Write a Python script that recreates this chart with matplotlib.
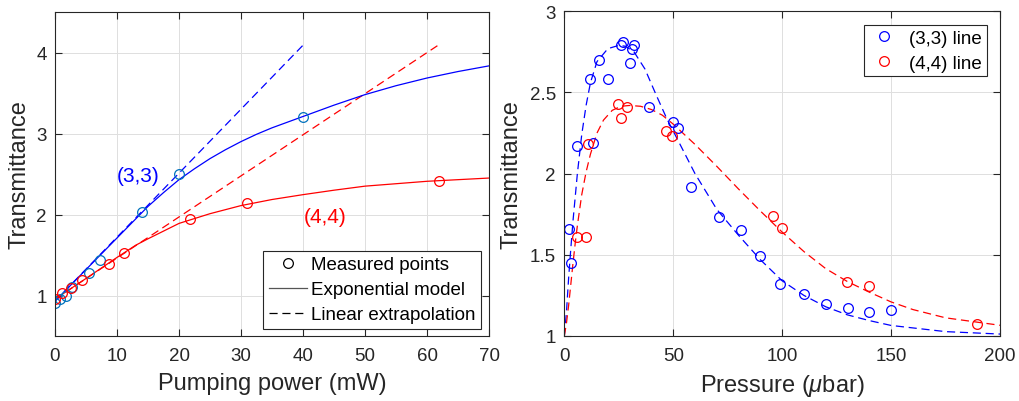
import matplotlib
matplotlib.use("Agg")
import matplotlib.pyplot as plt
from matplotlib.lines import Line2D

plt.rcParams['font.family'] = ['Liberation Sans', 'DejaVu Sans']
plt.rcParams['mathtext.fontset'] = 'custom'
plt.rcParams['mathtext.it'] = 'Liberation Sans:italic'
plt.rcParams['mathtext.rm'] = 'Liberation Sans'

# ---------------- Left panel data ----------------
p33_power = [0, 0.8, 1.7, 2.8, 5.5, 7.2, 14, 20, 40]
p33_trans = [0.91, 0.96, 1.0, 1.10, 1.28, 1.44, 2.03, 2.50, 3.20]
p44_power = [0, 1.1, 2.6, 4.3, 8.7, 11.1, 21.7, 30.9, 62]
p44_trans = [0.955, 1.03, 1.09, 1.19, 1.39, 1.53, 1.94, 2.14, 2.41]

model33_power = [0, 5, 10, 15, 17.5, 20, 22.5, 25, 27.5, 30, 32.5, 35, 40, 45, 50, 55, 60, 65, 70]
model33_trans = [0.93, 1.32, 1.71, 2.10, 2.27, 2.43, 2.565, 2.69, 2.80, 2.90, 2.99, 3.07, 3.21, 3.35,
                 3.48, 3.59, 3.685, 3.765, 3.835]
model44_power = [0, 5, 10, 13, 15, 20, 25, 30, 35, 40, 45, 50, 55, 60, 65, 70]
model44_trans = [0.955, 1.21, 1.47, 1.62, 1.70, 1.89, 2.01, 2.11, 2.185, 2.245, 2.30, 2.35, 2.38, 2.41, 2.43, 2.45]

lin33_power = [0, 40]
lin33_trans = [0.93, 4.09]
lin44_power = [0, 62]
lin44_trans = [0.955, 4.10]

# ---------------- Right panel data ----------------
pr33 = [2, 3, 6, 12, 13, 16, 20, 26, 27, 30, 31, 32, 39, 50, 52, 58, 71, 81, 90, 99, 110, 120, 130, 140, 150]
tr33 = [1.66, 1.45, 2.17, 2.58, 2.19, 2.70, 2.58, 2.79, 2.81, 2.68, 2.77, 2.79, 2.41, 2.32, 2.28, 1.92,
        1.73, 1.65, 1.49, 1.32, 1.26, 1.195, 1.175, 1.15, 1.16]
pr44 = [6, 9.9, 10.7, 24.8, 25.9, 28.9, 46.8, 49.6, 95.8, 99.8, 129.8, 139.7, 189.6]
tr44 = [1.61, 1.61, 2.18, 2.43, 2.345, 2.41, 2.26, 2.23, 1.74, 1.665, 1.335, 1.305, 1.075]

fit33_p = [0, 1, 2, 3, 4, 6, 8, 10, 12, 15, 20, 25, 28, 32, 37, 42, 47, 52, 60, 70, 80, 90, 100,
           110, 120, 130, 140, 150, 175, 200]
fit33_t = [1.0, 1.15, 1.36, 1.54, 1.71, 2.0, 2.24, 2.42, 2.56, 2.69, 2.77, 2.79, 2.785, 2.75, 2.645,
           2.49, 2.34, 2.21, 2.0, 1.78, 1.62, 1.47, 1.34, 1.25, 1.18, 1.13, 1.095, 1.065, 1.027, 1.012]
fit44_p = [0, 1, 2, 3, 4, 5, 6, 8, 10, 12, 15, 18, 22, 26, 30, 35, 40, 45, 50, 60, 70, 80, 90, 100,
           110, 120, 130, 140, 150, 160, 175, 200]
fit44_t = [1.0, 1.08, 1.19, 1.32, 1.45, 1.57, 1.68, 1.87, 2.01, 2.12, 2.25, 2.33, 2.39, 2.415, 2.42,
           2.415, 2.395, 2.36, 2.305, 2.18, 2.045, 1.905, 1.77, 1.64, 1.52, 1.415, 1.335, 1.27, 1.21,
           1.163, 1.112, 1.066]

TXT = '#262626'
GRID = '#dfdfdf'
LBLUE = '#0072BD'
DASH = (0, (6.5, 3.8))
FS_TICK = 13.5
FS_LAB = 17
FS_ANN = 15

fig = plt.figure(figsize=(10.19, 4.02), dpi=100)
ax1 = fig.add_axes([55/1019, 65/402, 434/1019, 324/402])
ax2 = fig.add_axes([564.3/1019, 65/402, 435.7/1019, 324.7/402])


def style(ax):
    ax.grid(True, color=GRID, linewidth=0.7)
    ax.set_axisbelow(True)
    for s in ax.spines.values():
        s.set_color(TXT)
        s.set_linewidth(0.8)
    ax.tick_params(direction='in', length=5, width=0.8, colors=TXT, labelsize=FS_TICK,
                   top=True, right=True)
    ax.tick_params(axis='x', pad=8)
    ax.tick_params(axis='y', pad=6)


# Left
ax1.plot(lin33_power, lin33_trans, color='blue', lw=0.9, ls=DASH)
ax1.plot(lin44_power, lin44_trans, color='red', lw=0.9, ls=DASH)
ax1.plot(model33_power, model33_trans, color='blue', lw=0.9)
ax1.plot(model44_power, model44_trans, color='red', lw=0.9)
ax1.plot(p33_power, p33_trans, 'o', mfc='none', mec=LBLUE, ms=7, mew=0.9)
ax1.plot(p44_power, p44_trans, 'o', mfc='none', mec='red', ms=7, mew=0.9)
ax1.text(13.4, 2.48, '(3,3)', color='blue', fontsize=FS_ANN, ha='center', va='center')
ax1.text(43.5, 1.97, '(4,4)', color='red', fontsize=FS_ANN, ha='center', va='center')
ax1.set_xlim(0, 70)
ax1.set_ylim(0.5, 4.5)
ax1.set_xticks(range(0, 71, 10))
ax1.set_yticks([1, 2, 3, 4])
ax1.set_xlabel('Pumping power (mW)', fontsize=FS_LAB, color=TXT, labelpad=6)
ax1.set_ylabel('Transmittance', fontsize=FS_LAB, color=TXT, labelpad=4)
style(ax1)
handles = [Line2D([], [], ls='none', marker='o', mfc='none', mec='k', ms=7, mew=0.9),
           Line2D([], [], color='#555555', lw=0.9),
           Line2D([], [], color='k', lw=0.9, ls=DASH)]
leg1 = ax1.legend(handles, ['Measured points', 'Exponential model', 'Linear extrapolation'],
                  loc='lower right', bbox_to_anchor=(0.982, 0.0216), borderaxespad=0,
                  fontsize=FS_TICK, fancybox=False, framealpha=1, edgecolor=TXT,
                  handlelength=2.05, handletextpad=0.2, labelspacing=0.42, borderpad=0.3)
leg1.get_frame().set_linewidth(0.8)

# Right
ax2.plot(fit33_p, fit33_t, color='blue', lw=0.9, ls=DASH)
ax2.plot(fit44_p, fit44_t, color='red', lw=0.9, ls=DASH)
ax2.plot(pr33, tr33, 'o', mfc='none', mec='blue', ms=7, mew=0.9, label='(3,3) line')
ax2.plot(pr44, tr44, 'o', mfc='none', mec='red', ms=7, mew=0.9, label='(4,4) line')
ax2.set_xlim(0, 200)
ax2.set_ylim(1, 3)
ax2.set_xticks(range(0, 201, 50))
ax2.set_yticks([1, 1.5, 2, 2.5, 3])
ax2.set_yticklabels(['1', '1.5', '2', '2.5', '3'])
ax2.set_xlabel(r'Pressure ($\mu$bar)', fontsize=FS_LAB, color=TXT, labelpad=6)
ax2.set_ylabel('Transmittance', fontsize=FS_LAB, color=TXT, labelpad=5)
style(ax2)
leg2 = ax2.legend(loc='upper right', bbox_to_anchor=(0.9695, 0.9587), borderaxespad=0,
                  fontsize=FS_TICK, fancybox=False, framealpha=1, edgecolor=TXT,
                  handlelength=1.6, handletextpad=0.55, labelspacing=0.42, borderpad=0.25)
leg2.get_frame().set_linewidth(0.8)

fig.savefig('out.png', dpi=100)
